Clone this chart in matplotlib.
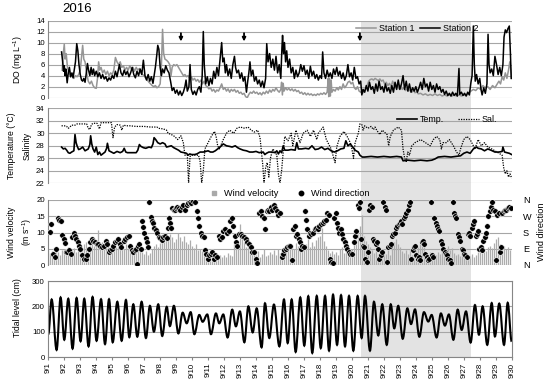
import numpy as np
import matplotlib
matplotlib.use('Agg')
import matplotlib.pyplot as plt
import matplotlib.transforms as mtransforms
from matplotlib.path import Path
from matplotlib.patches import PathPatch, Rectangle
from matplotlib.lines import Line2D

plt.rcParams['font.family'] = ['Liberation Sans', 'DejaVu Sans']
plt.rcParams['mathtext.fontset'] = 'custom'
plt.rcParams['mathtext.rm'] = 'Liberation Sans'
plt.rcParams['mathtext.it'] = 'Liberation Sans:italic'

# days counted from 9/1 00:00
date_labels = ['9/1', '9/2', '9/3', '9/4', '9/5', '9/6', '9/7', '9/8', '9/9', '9/10',
               '9/11', '9/12', '9/13', '9/14', '9/15', '9/16', '9/17', '9/18', '9/19', '9/20',
               '9/21', '9/22', '9/23', '9/24', '9/25', '9/26', '9/27', '9/28', '9/29', '9/30']
shade_start, shade_end = 19.57, 26.43
arrow_days = [8.30, 12.25, 19.50]

# DO, station 1 (grey)
st1_pts = [(0.87, 5.0), (0.92, 7.5), (1.0, 9.7), (1.05, 7.0), (1.12, 8.0), (1.2, 5.5), (1.3, 4.5), (1.4, 3.8),
           (1.5, 4.2), (1.6, 3.5), (1.7, 4.0), (1.8, 3.8), (1.9, 4.2), (2.0, 5.0), (2.08, 7.5), (2.15, 9.5),
           (2.22, 7.0), (2.3, 6.5), (2.4, 4.5), (2.5, 3.0), (2.6, 2.5), (2.7, 3.0), (2.8, 2.2), (2.9, 1.8),
           (3.0, 1.7), (3.08, 3.5), (3.15, 6.5), (3.22, 5.0), (3.3, 5.5), (3.4, 4.5), (3.5, 5.0), (3.6, 4.2),
           (3.7, 4.8), (3.8, 4.0), (3.9, 4.5), (4.0, 4.2), (4.1, 5.0), (4.2, 7.3), (4.3, 6.5), (4.4, 6.0),
           (4.5, 6.5), (4.6, 5.5), (4.7, 5.8), (4.8, 5.0), (4.9, 5.5), (5.0, 5.0), (5.1, 5.8), (5.2, 5.2),
           (5.3, 5.5), (5.4, 4.8), (5.5, 5.5), (5.6, 5.0), (5.7, 5.3), (5.8, 4.5), (5.9, 4.2), (6.0, 4.0),
           (6.1, 3.5), (6.2, 3.2), (6.3, 2.8), (6.4, 2.5), (6.5, 2.2), (6.6, 2.0), (6.7, 2.2), (6.8, 1.8),
           (6.9, 2.0), (7.0, 2.5), (7.08, 6.0), (7.15, 12.4), (7.22, 8.0), (7.3, 7.0), (7.4, 6.8), (7.5, 6.5),
           (7.6, 6.0), (7.68, 4.0), (7.75, 5.5), (7.85, 6.0), (7.95, 5.8), (8.05, 6.0), (8.15, 5.5), (8.25, 5.0),
           (8.35, 4.5), (8.45, 4.0), (8.55, 4.2), (8.65, 3.8), (8.75, 4.0), (8.85, 3.5), (8.95, 3.8), (9.05, 3.2),
           (9.15, 3.5), (9.25, 3.0), (9.35, 3.3), (9.45, 2.8), (9.55, 3.2), (9.65, 2.5), (9.75, 3.0), (9.85, 2.2),
           (9.95, 2.0), (10.05, 1.6), (10.15, 1.8), (10.25, 1.2), (10.35, 1.5), (10.45, 1.0), (10.55, 1.4),
           (10.65, 1.2), (10.75, 1.8), (10.85, 2.5), (10.95, 1.5), (11.05, 1.8), (11.15, 1.2), (11.25, 1.6),
           (11.35, 1.0), (11.45, 1.5), (11.55, 1.2), (11.65, 1.5), (11.75, 1.0), (11.85, 1.3), (11.95, 0.8),
           (12.05, 1.0), (12.15, 0.6), (12.25, 0.8), (12.35, 0.2), (12.45, 0.0), (12.55, 0.6), (12.65, 1.0),
           (12.75, 0.8), (12.85, 1.2), (12.95, 0.8), (13.05, 1.0), (13.15, 0.6), (13.25, 0.9), (13.35, 0.5),
           (13.45, 1.0), (13.55, 0.7), (13.65, 1.2), (13.75, 0.8), (13.85, 1.4), (13.95, 1.0), (14.05, 1.5),
           (14.15, 1.2), (14.25, 1.8), (14.35, 1.3), (14.45, 1.0), (14.55, 1.5), (14.6, 2.8), (14.65, 0.5),
           (14.7, 2.6), (14.75, 1.2), (14.85, 1.8), (14.95, 1.4), (15.05, 1.7), (15.15, 1.3), (15.25, 1.6),
           (15.35, 1.2), (15.45, 1.5), (15.55, 1.1), (15.65, 1.3), (15.75, 0.8), (15.85, 1.0), (15.95, 0.6),
           (16.05, 0.9), (16.15, 0.5), (16.25, 0.8), (16.35, 0.5), (16.45, 0.7), (16.55, 0.4), (16.65, 0.6),
           (16.75, 0.4), (16.85, 0.7), (16.95, 0.5), (17.05, 0.8), (17.15, 0.6), (17.25, 0.9), (17.35, 0.6),
           (17.45, 1.0), (17.52, 3.5), (17.55, 0.2), (17.6, 3.5), (17.65, 0.3), (17.7, 3.2), (17.75, 1.0),
           (17.85, 1.5), (17.95, 1.2), (18.05, 1.8), (18.15, 1.4), (18.25, 2.0), (18.35, 1.5), (18.45, 2.5),
           (18.55, 1.8), (18.65, 2.2), (18.75, 2.8), (18.85, 3.0), (18.95, 2.5), (19.05, 2.8), (19.15, 1.8),
           (19.25, 1.5), (19.35, 2.0), (19.45, 1.2), (19.55, 1.0), (19.65, 0.8), (19.75, 1.0), (19.85, 1.5),
           (19.95, 2.2), (20.05, 3.0), (20.15, 3.3), (20.25, 3.4), (20.35, 3.2), (20.45, 3.5), (20.55, 3.3),
           (20.65, 3.1), (20.75, 3.4), (20.85, 3.0), (20.95, 3.2), (21.05, 2.5), (21.15, 2.8), (21.25, 2.2),
           (21.35, 2.6), (21.45, 2.0), (21.55, 3.0), (21.65, 2.2), (21.75, 1.8), (21.85, 2.5), (21.95, 1.6),
           (22.05, 2.2), (22.15, 1.5), (22.25, 1.8), (22.35, 1.3), (22.45, 1.6), (22.55, 1.2), (22.65, 1.5),
           (22.75, 1.0), (22.85, 1.3), (22.95, 0.9), (23.05, 1.1), (23.15, 0.7), (23.3, 0.8), (23.45, 0.5),
           (23.6, 0.7), (23.75, 0.4), (23.9, 0.6), (24.05, 0.4), (24.2, 0.7), (24.35, 0.4), (24.5, 0.6),
           (24.65, 0.3), (24.8, 0.5), (24.95, 0.3), (25.1, 0.5), (25.25, 0.3), (25.4, 0.5), (25.55, 0.3),
           (25.7, 0.5), (25.85, 0.3), (26.0, 0.5), (26.15, 0.4), (26.3, 0.8), (26.45, 1.2), (26.6, 1.5),
           (26.75, 1.3), (26.9, 1.8), (27.05, 1.5), (27.2, 2.2), (27.35, 1.8), (27.5, 2.0), (27.65, 1.5),
           (27.8, 2.2), (27.95, 1.8), (28.1, 2.5), (28.2, 3.0), (28.3, 2.5), (28.4, 3.8), (28.5, 3.2),
           (28.6, 4.5), (28.7, 3.5), (28.8, 5.0), (28.88, 6.5), (28.95, 5.0), (29.0, 3.5)]

# DO, station 2 (black)
st2_pts = [(0.83, 8.3), (0.9, 6.5), (0.95, 4.8), (1.0, 5.8), (1.05, 4.0), (1.1, 5.2), (1.18, 2.7), (1.25, 4.5),
           (1.32, 5.5), (1.4, 3.8), (1.48, 4.5), (1.55, 3.6), (1.62, 5.0), (1.7, 6.5), (1.78, 9.8), (1.85, 8.5),
           (1.92, 6.0), (2.0, 4.2), (2.08, 3.2), (2.15, 3.0), (2.22, 3.5), (2.3, 2.8), (2.38, 4.5), (2.45, 6.2),
           (2.52, 5.0), (2.6, 4.0), (2.68, 5.5), (2.75, 4.2), (2.83, 5.2), (2.9, 4.0), (3.0, 4.8), (3.1, 3.8),
           (3.2, 4.5), (3.3, 3.5), (3.4, 4.2), (3.5, 3.4), (3.6, 3.8), (3.7, 3.0), (3.8, 3.6), (3.9, 3.2),
           (4.0, 4.0), (4.1, 3.5), (4.2, 4.8), (4.3, 3.8), (4.45, 6.0), (4.55, 4.5), (4.65, 4.0), (4.75, 5.0),
           (4.85, 4.2), (4.95, 4.8), (5.05, 3.8), (5.15, 4.5), (5.25, 5.5), (5.35, 4.2), (5.45, 3.6), (5.55, 4.8),
           (5.65, 4.0), (5.75, 5.2), (5.85, 4.2), (5.95, 6.8), (6.05, 4.0), (6.15, 3.2), (6.25, 4.2), (6.35, 3.0),
           (6.45, 3.8), (6.55, 2.6), (6.62, 4.0), (6.7, 5.5), (6.78, 7.5), (6.85, 9.5), (6.92, 8.8), (7.0, 5.5),
           (7.08, 4.0), (7.15, 5.2), (7.25, 4.5), (7.35, 5.8), (7.45, 5.0), (7.55, 4.5), (7.65, 3.0), (7.75, 1.3),
           (7.85, 1.8), (7.95, 0.8), (8.05, 1.4), (8.15, 0.5), (8.25, 1.2), (8.35, 0.4), (8.45, 1.0), (8.55, 2.0),
           (8.62, 3.2), (8.7, 1.2), (8.8, 2.0), (8.87, 6.0), (8.95, 1.5), (9.05, 0.6), (9.15, 1.2), (9.25, 0.5),
           (9.35, 1.5), (9.45, 2.0), (9.55, 1.0), (9.63, 4.0), (9.7, 12.0), (9.76, 6.0), (9.85, 2.5), (9.95, 3.8),
           (10.05, 2.2), (10.15, 3.5), (10.25, 2.5), (10.35, 4.8), (10.45, 3.5), (10.55, 5.5), (10.65, 4.0),
           (10.75, 7.0), (10.85, 10.0), (10.92, 6.5), (11.0, 7.2), (11.08, 4.5), (11.15, 6.0), (11.25, 4.0),
           (11.35, 5.2), (11.45, 3.5), (11.55, 6.0), (11.65, 7.5), (11.72, 5.5), (11.8, 4.5), (11.9, 5.0),
           (12.0, 3.5), (12.1, 4.5), (12.2, 3.0), (12.3, 3.8), (12.4, 1.0), (12.48, 3.0), (12.55, 4.5),
           (12.62, 6.5), (12.7, 4.0), (12.8, 5.0), (12.9, 3.0), (13.0, 3.8), (13.1, 2.5), (13.2, 3.2), (13.3, 2.0),
           (13.4, 3.0), (13.5, 1.8), (13.6, 3.5), (13.67, 9.8), (13.75, 6.5), (13.85, 8.0), (13.95, 5.5),
           (14.05, 7.0), (14.15, 5.0), (14.25, 7.5), (14.35, 4.5), (14.45, 6.0), (14.55, 3.5), (14.62, 9.0),
           (14.66, 11.3), (14.72, 8.0), (14.78, 10.0), (14.85, 6.5), (14.92, 8.5), (15.0, 5.5), (15.1, 7.0),
           (15.2, 4.5), (15.3, 5.5), (15.4, 3.5), (15.5, 5.0), (15.6, 3.8), (15.7, 4.5), (15.8, 6.0), (15.9, 4.8),
           (16.0, 5.8), (16.1, 4.2), (16.2, 5.0), (16.3, 3.5), (16.4, 5.7), (16.5, 4.0), (16.6, 4.8), (16.7, 3.5),
           (16.8, 4.2), (16.9, 3.2), (17.0, 4.0), (17.1, 3.5), (17.17, 8.3), (17.25, 4.5), (17.35, 3.5),
           (17.45, 5.0), (17.55, 3.8), (17.65, 4.5), (17.75, 3.5), (17.85, 5.2), (17.95, 4.2), (18.05, 5.5),
           (18.15, 4.0), (18.25, 4.8), (18.35, 3.5), (18.45, 4.5), (18.55, 3.2), (18.65, 4.0), (18.75, 6.0),
           (18.85, 3.8), (18.95, 4.5), (19.05, 3.2), (19.15, 5.5), (19.25, 3.5), (19.35, 3.8), (19.45, 2.5),
           (19.55, 3.0), (19.62, 0.5), (19.7, 1.5), (19.8, 1.0), (19.9, 2.2), (20.0, 1.2), (20.1, 2.8),
           (20.2, 1.5), (20.3, 2.0), (20.4, 0.8), (20.5, 2.5), (20.6, 1.2), (20.7, 3.0), (20.8, 1.5), (20.9, 2.0),
           (21.0, 1.0), (21.1, 2.5), (21.2, 1.2), (21.3, 1.8), (21.4, 0.8), (21.5, 2.2), (21.6, 1.0), (21.7, 2.8),
           (21.8, 1.5), (21.9, 3.2), (22.0, 1.5), (22.1, 2.5), (22.2, 4.0), (22.3, 1.5), (22.4, 3.0), (22.5, 1.2),
           (22.6, 2.5), (22.7, 1.0), (22.8, 1.8), (22.9, 1.2), (23.0, 2.0), (23.1, 1.0), (23.2, 1.8), (23.3, 2.8),
           (23.4, 1.5), (23.5, 3.5), (23.6, 2.0), (23.7, 2.5), (23.8, 1.2), (23.9, 2.8), (24.0, 1.5), (24.1, 2.2),
           (24.2, 1.0), (24.3, 2.5), (24.4, 1.5), (24.5, 2.0), (24.6, 1.0), (24.7, 1.5), (24.8, 0.6), (24.9, 1.2),
           (25.0, 0.4), (25.1, 0.8), (25.2, 0.3), (25.3, 1.0), (25.4, 0.4), (25.5, 0.8), (25.6, 0.3), (25.7, 5.3),
           (25.75, 0.6), (25.85, 1.0), (25.95, 0.4), (26.05, 0.8), (26.15, 0.3), (26.25, 1.0), (26.35, 0.5),
           (26.45, 2.8), (26.52, 4.0), (26.6, 13.0), (26.66, 6.0), (26.72, 3.0), (26.8, 4.2), (26.9, 2.5),
           (27.0, 3.5), (27.08, 1.5), (27.15, 0.5), (27.25, 1.8), (27.35, 0.8), (27.45, 2.5), (27.52, 11.5),
           (27.58, 6.0), (27.65, 4.5), (27.75, 5.2), (27.85, 4.0), (27.95, 7.5), (28.05, 6.0), (28.15, 4.2),
           (28.25, 5.5), (28.35, 4.0), (28.45, 6.0), (28.52, 11.0), (28.6, 12.3), (28.68, 11.8), (28.76, 12.5),
           (28.85, 13.0), (28.92, 8.0), (28.97, 3.5)]

# water temperature (solid)
temp_pts = [(0.83, 27.8), (0.94, 27.5), (1.05, 27.6), (1.15, 27.3), (1.25, 26.9), (1.35, 26.8), (1.46, 27.0),
            (1.6, 27.2), (1.67, 29.8), (1.74, 28.5), (1.8, 28.0), (1.9, 27.4), (2.0, 27.5), (2.15, 27.8),
            (2.3, 27.2), (2.5, 27.5), (2.6, 28.2), (2.65, 29.6), (2.72, 28.3), (2.8, 27.5), (2.9, 27.0),
            (3.0, 27.8), (3.1, 26.6), (3.2, 27.0), (3.3, 26.5), (3.45, 26.8), (3.55, 27.0), (3.65, 27.6),
            (3.7, 28.4), (3.8, 27.2), (3.95, 27.0), (4.1, 26.8), (4.3, 27.1), (4.5, 26.9), (4.65, 27.1),
            (4.75, 27.6), (4.85, 27.0), (4.95, 26.9), (5.2, 26.9), (5.5, 26.9), (5.6, 27.3), (5.7, 28.2),
            (5.8, 27.9), (5.95, 27.7), (6.1, 27.6), (6.3, 27.8), (6.45, 27.7), (6.55, 28.3), (6.62, 29.3),
            (6.72, 29.0), (6.85, 28.5), (7.0, 28.3), (7.15, 28.5), (7.3, 28.3), (7.4, 27.8), (7.55, 27.9),
            (7.7, 28.0), (7.85, 27.7), (8.0, 27.5), (8.15, 27.3), (8.3, 27.0), (8.5, 26.9), (8.65, 26.8),
            (8.75, 26.5), (8.85, 26.7), (8.97, 26.6), (9.15, 26.6), (9.3, 26.7), (9.5, 27.0), (9.7, 27.0),
            (9.85, 27.1), (10.0, 27.2), (10.15, 27.0), (10.3, 27.0), (10.45, 27.2), (10.6, 27.5),
            (10.75, 27.8), (10.95, 28.3), (11.15, 28.0), (11.35, 27.9), (11.5, 27.8), (11.7, 28.0),
            (11.85, 27.7), (12.0, 27.5), (12.2, 27.3), (12.4, 27.2), (12.6, 27.0), (12.8, 27.0), (13.0, 27.1),
            (13.2, 26.9), (13.45, 27.0), (13.55, 26.6), (13.65, 26.8), (13.8, 27.0), (14.0, 27.0),
            (14.2, 26.9), (14.3, 27.2), (14.4, 26.7), (14.5, 27.2), (14.6, 26.9), (14.7, 28.0), (14.8, 27.3),
            (15.0, 27.3), (15.2, 27.4), (15.45, 27.3), (15.55, 28.5), (15.65, 27.5), (15.85, 27.5),
            (16.1, 27.6), (16.3, 27.5), (16.5, 28.0), (16.7, 27.4), (16.9, 27.5), (17.1, 27.8), (17.3, 27.4),
            (17.5, 27.6), (17.7, 27.2), (17.9, 27.0), (18.1, 27.2), (18.3, 27.5), (18.5, 27.6), (18.62, 28.8),
            (18.75, 28.0), (18.9, 28.3), (19.05, 27.8), (19.2, 27.3), (19.4, 27.0), (19.5, 26.5),
            (19.65, 26.2), (19.8, 26.2), (20.2, 26.3), (20.6, 26.2), (21.0, 26.3), (21.4, 26.2), (21.8, 26.3),
            (22.1, 26.2), (22.2, 25.6), (22.5, 25.7), (22.9, 25.6), (23.3, 25.7), (23.7, 25.6), (24.0, 25.7),
            (24.2, 25.9), (24.4, 26.2), (24.8, 26.3), (25.2, 26.2), (25.5, 26.3), (25.8, 26.4), (26.0, 26.8),
            (26.2, 27.0), (26.4, 26.8), (26.6, 27.5), (26.8, 27.8), (26.9, 27.6), (27.1, 27.5), (27.3, 27.2),
            (27.5, 27.5), (27.7, 27.3), (27.95, 27.0), (28.2, 27.0), (28.4, 27.1), (28.45, 27.8),
            (28.55, 27.0), (28.7, 26.9), (28.85, 26.8), (29.0, 26.6)]

# salinity (dotted)
sal_pts = [(0.83, 31.2), (1.0, 31.2), (1.15, 31.1), (1.25, 30.8), (1.35, 31.0), (1.46, 31.3), (1.67, 31.3),
           (1.8, 31.5), (2.1, 31.5), (2.4, 31.5), (2.5, 30.8), (2.6, 30.6), (2.7, 31.4), (2.8, 31.6),
           (3.05, 31.6), (3.2, 30.7), (3.3, 31.7), (3.6, 31.7), (3.95, 31.7), (4.05, 29.3), (4.15, 31.0),
           (4.3, 31.4), (4.5, 31.3), (4.6, 30.5), (4.7, 31.3), (4.9, 31.2), (5.1, 31.2), (5.5, 31.1),
           (6.0, 31.1), (6.4, 31.0), (6.8, 31.0), (6.9, 30.8), (7.2, 30.7), (7.4, 30.5), (7.5, 30.0),
           (7.7, 29.8), (7.9, 29.5), (8.1, 29.0), (8.3, 29.6), (8.45, 28.5), (8.55, 26.5), (8.7, 26.5),
           (8.78, 22.0), (8.87, 26.3), (9.0, 26.5), (9.4, 26.5), (9.5, 25.5), (9.6, 22.0), (9.7, 24.0),
           (9.8, 27.5), (10.0, 28.5), (10.2, 29.5), (10.4, 30.3), (10.5, 29.5), (10.6, 28.0), (10.7, 27.5),
           (10.95, 29.0), (11.15, 30.0), (11.35, 30.5), (11.6, 30.0), (11.8, 30.8), (12.0, 31.0),
           (12.3, 30.8), (12.5, 31.0), (12.7, 30.5), (12.9, 30.2), (13.1, 30.5), (13.25, 29.3), (13.42, 25.0),
           (13.5, 22.0), (13.6, 24.5), (13.7, 25.3), (13.8, 23.0), (13.9, 26.0), (14.05, 27.5), (14.2, 27.0),
           (14.3, 26.5), (14.4, 23.5), (14.5, 22.0), (14.6, 24.0), (14.7, 27.0), (14.8, 29.5), (15.0, 28.8),
           (15.2, 30.0), (15.3, 28.0), (15.5, 30.5), (15.75, 28.5), (15.95, 30.0), (16.2, 30.5), (16.4, 29.5),
           (16.6, 30.5), (16.8, 29.0), (16.9, 30.0), (17.2, 31.0), (17.4, 29.0), (17.6, 28.0), (17.7, 27.5),
           (17.95, 25.3), (18.05, 27.8), (18.25, 29.5), (18.5, 30.3), (18.7, 29.5), (18.9, 28.5), (19.0, 27.5),
           (19.1, 26.0), (19.2, 28.5), (19.4, 30.0), (19.5, 31.5), (19.62, 31.4), (19.7, 30.5), (19.8, 31.2),
           (20.0, 30.8), (20.2, 31.1), (20.35, 30.6), (20.45, 31.0), (20.55, 30.5), (20.75, 29.8),
           (20.9, 30.5), (21.2, 29.8), (21.3, 28.0), (21.4, 29.5), (21.6, 30.5), (21.9, 31.0), (22.1, 30.5),
           (22.2, 27.5), (22.3, 26.0), (22.4, 25.5), (22.5, 27.0), (22.6, 26.5), (22.75, 28.0), (22.95, 28.5),
           (23.3, 29.0), (23.6, 28.5), (23.9, 28.0), (24.1, 29.0), (24.3, 29.5), (24.5, 29.0), (24.6, 27.5),
           (24.7, 28.5), (24.9, 28.5), (25.1, 29.0), (25.35, 28.0), (25.55, 27.0), (25.7, 26.5), (25.8, 27.5),
           (26.0, 29.0), (26.2, 29.5), (26.4, 29.0), (26.6, 28.0), (26.7, 27.5), (26.9, 29.0), (27.1, 28.0),
           (27.3, 28.5), (27.5, 27.8), (27.75, 27.5), (27.95, 27.2), (28.2, 26.8), (28.4, 26.5), (28.5, 24.5),
           (28.6, 23.5), (28.7, 24.0), (28.8, 23.0), (28.9, 23.5), (29.0, 22.8)]

# wind velocity, 3-hourly (m/s)
wind_speed = [4.5, 3.8, 4.2, 3.5, 4.8, 4.0, 3.2, 4.5,
              5.0, 4.2, 5.5, 3.8, 4.5, 5.2, 4.0, 4.8,
              6.0, 5.2, 6.5, 7.0, 5.5, 6.8, 7.2, 6.0,
              7.5, 10.8, 6.5, 7.0, 5.8, 6.5, 7.2, 5.5,
              6.0, 7.5, 5.5, 6.8, 7.8, 6.2, 5.0, 6.5,
              5.5, 4.8, 6.0, 4.2, 5.2, 4.5, 5.8, 4.0,
              3.5, 4.2, 3.0, 3.8, 5.0, 5.8, 6.5, 5.5,
              6.8, 7.5, 8.2, 9.0, 7.8, 9.5, 8.5, 7.2,
              8.0, 9.7, 8.5, 7.5, 8.8, 7.0, 6.5, 7.8,
              6.0, 5.2, 6.5, 4.5, 5.0, 4.2, 3.8, 4.5,
              3.5, 2.8, 3.2, 2.5, 3.8, 2.2, 3.0, 2.6,
              3.2, 2.5, 3.8, 3.0, 2.8, 6.5, 7.5, 6.0,
              12.5, 8.0, 7.0, 5.5, 6.0, 4.5, 5.2, 3.8,
              3.0, 4.2, 2.5, 3.5, 5.0, 2.8, 3.2, 4.0,
              3.5, 4.5, 3.0, 4.8, 3.8, 5.0, 3.2, 4.2,
              4.5, 5.5, 6.2, 5.0, 6.8, 5.8, 7.0, 6.0,
              5.2, 6.5, 8.0, 5.5, 7.2, 6.0, 7.8, 8.5,
              9.0, 11.3, 7.5, 6.0, 4.5, 3.8, 4.2, 3.5,
              4.0, 3.2, 4.8, 5.5, 3.8, 4.5, 5.8, 4.2,
              5.0, 6.5, 8.0, 9.5, 12.0, 15.5, 9.0, 7.5,
              6.5, 5.5, 4.5, 3.8, 4.2, 3.5, 4.8, 3.2,
              4.0, 3.5, 4.5, 3.2, 5.5, 7.0, 8.0, 6.5,
              5.5, 4.2, 3.8, 4.5, 3.5, 4.8, 3.2, 4.0,
              4.5, 5.5, 6.5, 7.0, 5.8, 3.8, 3.2, 4.0,
              3.5, 2.8, 3.2, 4.0, 3.5, 4.8, 5.5, 5.0,
              6.0, 4.5, 5.2, 3.8, 3.2, 3.5, 2.8, 3.0,
              2.5, 3.0, 2.2, 2.8, 3.5, 2.6, 3.2, 4.0,
              4.5, 3.8, 5.0, 4.2, 5.5, 6.0, 5.2, 6.8,
              8.0, 8.7, 6.5, 5.5, 6.0, 4.8, 5.5, 4.5]
wind_speed_day = np.arange(len(wind_speed)) * 0.125

# wind direction (degrees, N = 0/360)
wdir_pts = [(0.1, 185), (0.18, 225), (0.3, 63), (0.4, 45), (0.5, 90), (0.62, 260), (0.7, 252), (0.78, 243),
            (0.88, 166), (0.96, 144), (1.04, 121), (1.12, 74), (1.2, 72), (1.3, 81), (1.4, 63), (1.5, 153),
            (1.58, 180), (1.66, 162), (1.75, 144), (1.83, 126), (1.92, 108), (2.0, 90), (2.1, 54), (2.25, 36),
            (2.35, 32), (2.45, 54), (2.52, 90), (2.62, 126), (2.72, 144), (2.82, 135), (2.92, 126), (3.02, 117),
            (3.12, 117), (3.25, 108), (3.38, 99), (3.48, 108), (3.58, 135), (3.68, 117), (3.78, 72), (3.88, 81),
            (3.98, 90), (4.08, 108), (4.18, 126), (4.28, 135), (4.38, 144), (4.48, 117), (4.58, 99), (4.72, 135),
            (4.82, 144), (4.92, 153), (5.02, 162), (5.12, 108), (5.22, 81), (5.32, 72), (5.42, 81), (5.52, 5),
            (5.5, 90), (5.6, 108), (5.7, 117), (5.8, 90), (5.88, 243), (5.95, 212), (6.02, 175), (6.1, 148),
            (6.18, 130), (6.25, 101), (6.32, 347), (6.4, 268), (6.48, 243), (6.56, 230), (6.64, 203), (6.72, 194),
            (6.8, 175), (6.9, 157), (7.0, 148), (7.1, 139), (7.2, 157), (7.3, 162), (7.4, 148), (7.5, 203),
            (7.58, 261), (7.64, 234), (7.7, 207), (7.76, 315), (7.84, 306), (7.92, 306), (8.0, 315), (8.08, 324),
            (8.16, 315), (8.26, 306), (8.36, 324), (8.46, 333), (8.56, 306), (8.66, 333), (8.76, 342), (8.86, 351),
            (8.96, 346), (9.06, 356), (9.16, 351), (9.28, 297), (9.38, 261), (9.46, 216), (9.56, 180), (9.64, 162),
            (9.72, 153), (9.82, 81), (9.9, 63), (9.98, 36), (10.08, 54), (10.16, 63), (10.26, 72), (10.36, 36),
            (10.44, 54), (10.54, 45), (10.66, 162), (10.74, 144), (10.84, 153), (10.96, 189), (11.06, 198),
            (11.16, 180), (11.28, 189), (11.4, 243), (11.48, 261), (11.56, 216), (11.66, 162), (11.74, 126),
            (11.82, 108), (11.94, 171), (12.04, 171), (12.14, 162), (12.26, 153), (12.36, 144), (12.46, 126),
            (12.56, 117), (12.66, 99), (12.76, 72), (12.88, 72), (12.98, 36), (13.08, 9), (13.2, 288), (13.3, 297),
            (13.4, 270), (13.5, 261), (13.58, 198), (13.66, 297), (13.74, 306), (13.82, 297), (13.92, 324),
            (14.0, 306), (14.1, 333), (14.2, 315), (14.3, 297), (14.4, 279), (14.5, 288), (14.6, 47), (14.68, 63),
            (14.76, 81), (14.86, 90), (14.96, 99), (15.06, 108), (15.14, 108), (15.24, 27), (15.34, 198),
            (15.42, 216), (15.5, 162), (15.58, 171), (15.66, 144), (15.74, 126), (15.82, 90), (15.9, 108),
            (15.98, 99), (16.06, 297), (16.14, 252), (16.22, 198), (16.3, 162), (16.38, 180), (16.46, 171),
            (16.56, 180), (16.66, 198), (16.76, 207), (16.86, 198), (16.96, 216), (17.06, 225), (17.16, 234),
            (17.26, 243), (17.36, 252), (17.46, 288), (17.56, 279), (17.64, 36), (17.72, 18), (17.8, 9),
            (17.9, 261), (17.98, 288), (18.06, 234), (18.14, 207), (18.22, 180), (18.3, 198), (18.38, 171),
            (18.46, 144), (18.54, 126), (18.62, 108), (18.7, 90), (18.8, 72), (18.9, 63), (19.0, 63), (19.12, 126),
            (19.2, 162), (19.28, 189), (19.36, 333), (19.44, 315), (19.52, 351), (19.6, 144), (19.68, 108),
            (19.76, 99), (19.84, 36), (19.92, 18), (20.0, 72), (20.08, 306), (20.16, 333), (20.24, 324),
            (20.32, 144), (20.4, 135), (20.48, 117), (20.56, 126), (20.64, 90), (20.72, 36), (20.8, 54), (20.88, 72),
            (20.96, 351), (21.04, 324), (21.12, 306), (21.2, 18), (21.28, 99), (21.36, 108), (21.44, 117),
            (21.52, 162), (21.6, 171), (21.68, 180), (21.76, 207), (21.84, 216), (21.92, 225), (22.0, 234),
            (22.08, 243), (22.16, 225), (22.24, 261), (22.32, 270), (22.4, 288), (22.48, 306), (22.56, 333),
            (22.64, 351), (22.72, 36), (22.8, 81), (22.88, 99), (22.96, 108), (23.04, 54), (23.12, 36), (23.2, 45),
            (23.28, 27), (23.36, 126), (23.44, 135), (23.52, 117), (23.6, 63), (23.68, 45), (23.76, 27), (23.84, 36),
            (23.92, 351), (24.0, 54), (24.08, 45), (24.16, 261), (24.24, 234), (24.32, 216), (24.4, 198),
            (24.48, 189), (24.56, 135), (24.64, 117), (24.72, 90), (24.8, 72), (24.88, 63), (24.96, 54), (25.04, 36),
            (25.12, 27), (25.2, 9), (25.3, 351), (25.38, 288), (25.46, 270), (25.54, 261), (25.62, 171),
            (25.7, 153), (25.78, 135), (25.86, 90), (25.94, 81), (26.02, 63), (26.1, 54), (26.18, 45), (26.26, 171),
            (26.34, 180), (26.42, 162), (26.5, 207), (26.58, 225), (26.66, 243), (26.74, 162), (26.82, 171),
            (26.9, 189), (26.98, 90), (27.06, 99), (27.14, 81), (27.22, 135), (27.3, 153), (27.38, 180),
            (27.46, 216), (27.54, 270), (27.62, 297), (27.7, 324), (27.78, 351), (27.86, 306), (27.94, 297),
            (28.02, 27), (28.1, 279), (28.18, 288), (28.26, 72), (28.34, 99), (28.42, 288), (28.5, 297),
            (28.58, 306), (28.66, 306), (28.74, 315), (28.84, 324), (28.94, 315)]

# tidal level: successive high / low waters (day, cm)
tide_pts = [(0.0, 90), (0.21, 227), (0.52, 28), (0.77, 235), (1.00, 68), (1.25, 230), (1.52, 33), (1.77, 233),
            (2.02, 62), (2.25, 230), (2.52, 42), (2.77, 237), (3.02, 64), (3.30, 228), (3.55, 51), (3.80, 228),
            (4.03, 58), (4.32, 218), (4.59, 64), (4.86, 225), (5.07, 78), (5.32, 208), (5.57, 80), (5.84, 218),
            (6.11, 75), (6.36, 202), (6.61, 100), (6.88, 208), (7.13, 83), (7.41, 198), (7.61, 122), (7.86, 202),
            (8.14, 93), (8.41, 175), (8.66, 133), (8.91, 177), (9.14, 90), (9.45, 166), (9.66, 139), (9.95, 168),
            (10.18, 90), (10.49, 172), (10.70, 133), (10.95, 168), (11.22, 77), (11.51, 187), (11.74, 121),
            (11.99, 180), (12.27, 58), (12.52, 200), (12.79, 97), (13.04, 192), (13.35, 38), (13.56, 212),
            (13.83, 75), (14.12, 207), (14.46, 42), (14.75, 227), (14.98, 55), (15.23, 227), (15.48, 20),
            (15.77, 235), (16.02, 45), (16.27, 240), (16.52, 16), (16.80, 241), (17.05, 35), (17.32, 241),
            (17.57, 25), (17.82, 246), (18.07, 48), (18.32, 244), (18.57, 42), (18.82, 241), (19.09, 25),
            (19.36, 241), (19.61, 75), (19.82, 241), (20.13, 25), (20.38, 218), (20.65, 85), (20.90, 208),
            (21.18, 48), (21.43, 208), (21.65, 113), (21.90, 202), (22.18, 72), (22.47, 192), (22.70, 130),
            (22.95, 188), (23.22, 80), (23.51, 177), (23.78, 140), (23.99, 166), (24.30, 77), (24.57, 172),
            (24.82, 124), (25.07, 168), (25.35, 68), (25.62, 187), (25.87, 107), (26.14, 180), (26.43, 57),
            (26.70, 205), (26.95, 88), (27.18, 200), (27.47, 48), (27.75, 213), (27.95, 81), (28.22, 211),
            (28.52, 48), (28.75, 214), (29.00, 61)]

st1_day, st1_do = zip(*st1_pts)
st2_day, st2_do = zip(*st2_pts)
temp_day, temp_val = zip(*temp_pts)
sal_day, sal_val = zip(*sal_pts)
wdir_day, wdir_val = zip(*wdir_pts)

grid_c = '#a6a6a6'
axis_c = '#868686'
tick_fs = 5.6
lab_fs = 6.2

W, H = 550, 384
fig = plt.figure(figsize=(W / 100, H / 100), dpi=100)
left, right = 48.3 / W, 511.7 / W

def panel(top_px, bot_px):
    return fig.add_axes([left, 1 - bot_px / H, right - left, (bot_px - top_px) / H])

ax1 = panel(20.5, 97.7)
ax2 = panel(108.3, 183.3)
ax3 = panel(200.0, 265.0)
ax4 = panel(281.0, 357.0)

for ax in (ax1, ax2, ax3, ax4):
    ax.set_facecolor('none')
    ax.set_xlim(0, 29)
    ax.set_axisbelow(True)
    ax.yaxis.grid(True, color=grid_c, linewidth=0.8)
    ax.tick_params(axis='y', length=0, pad=2.5, labelsize=tick_fs)
    for s in ('top', 'right', 'bottom'):
        ax.spines[s].set_visible(False)
    ax.spines['left'].set_color(axis_c)
    ax.spines['left'].set_linewidth(0.8)
    if ax is not ax4:
        ax.set_xticks([])

# shaded period behind all panels
trans = mtransforms.blended_transform_factory(ax4.transData, fig.transFigure)
fig.add_artist(Rectangle((shade_start, 1 - 357.0 / H), shade_end - shade_start, (357.0 - 20.5) / H,
                         transform=trans, facecolor='#e3e3e3', edgecolor='none', zorder=-5))

# --- DO
ax1.plot(st1_day, st1_do, color='#959595', linewidth=1.1, label='Station 1')
ax1.plot(st2_day, st2_do, color='black', linewidth=1.1, label='Station 2')
ax1.set_ylim(0, 14)
ax1.set_yticks(range(0, 15, 2))
for d in arrow_days:
    ax1.annotate('', xy=(d, 10.2), xytext=(d, 11.7),
                 arrowprops=dict(arrowstyle='-|>', color='black', lw=1.3, mutation_scale=5,
                                 shrinkA=0, shrinkB=0))
ax1.legend(loc='upper right', bbox_to_anchor=(0.945, 1.06), ncol=2, frameon=False,
           fontsize=6.4, handlelength=2.3, handletextpad=0.3, columnspacing=0.6)

# --- temperature / salinity
ax2.plot(temp_day, temp_val, color='black', linewidth=1.2, label='Temp.')
ax2.plot(sal_day, sal_val, color='black', linewidth=0.9, linestyle=(0, (1, 1)), label='Sal.')
ax2.set_ylim(22, 34)
ax2.set_yticks(range(22, 35, 2))
ax2.legend(loc='upper right', bbox_to_anchor=(0.985, 1.02), ncol=2, frameon=False,
           fontsize=6.4, handlelength=2.3, handletextpad=0.3, columnspacing=1.6)

# --- wind
ax3.vlines(wind_speed_day, 0, wind_speed, color='#adadad', linewidth=0.9)
ax3.set_ylim(0, 20)
ax3.set_yticks(range(0, 21, 5))
ax3r = ax3.twinx()
ax3r.plot(wdir_day, wdir_val, 'o', color='black', markersize=4.0, markeredgecolor='white',
          markeredgewidth=0.4)
ax3r.set_ylim(0, 360)
ax3r.set_yticks([0, 90, 180, 270, 360])
ax3r.set_yticklabels(['N', 'E', 'S', 'W', 'N'])
ax3r.tick_params(axis='y', length=0, pad=8, labelsize=6.6)
for s in ax3r.spines.values():
    s.set_visible(False)
h_speed = Line2D([], [], marker='s', linestyle='none', color='#a9a9a9', markersize=3.5)
h_dir = Line2D([], [], marker='o', linestyle='none', color='black', markersize=3.2)
ax3.legend([h_speed, h_dir], ['Wind velocity', 'Wind direction'], loc='lower left',
           bbox_to_anchor=(0.33, 0.97), ncol=2, frameon=False, fontsize=6.6,
           handletextpad=0.1, columnspacing=1.4, borderaxespad=0)

# --- tide, smooth curve through the turning points
verts = [tide_pts[0]]
codes = [Path.MOVETO]
for (t0, v0), (t1, v1) in zip(tide_pts[:-1], tide_pts[1:]):
    dt = t1 - t0
    verts += [(t0 + 0.36 * dt, v0), (t1 - 0.36 * dt, v1), (t1, v1)]
    codes += [Path.CURVE4] * 3
ax4.add_patch(PathPatch(Path(verts, codes), facecolor='none', edgecolor='black', linewidth=1.5))
ax4.set_ylim(0, 300)
ax4.set_yticks([0, 100, 200, 300])
for s in ('top', 'right', 'bottom'):
    ax4.spines[s].set_visible(True)
    ax4.spines[s].set_color(axis_c)
    ax4.spines[s].set_linewidth(0.8)
ax4.set_xticks(np.arange(len(date_labels)))
ax4.set_xticklabels(date_labels, rotation=90)
ax4.tick_params(axis='x', length=2.5, color=axis_c, pad=1.5, labelsize=tick_fs)

# --- labels
def ylab(x_px, y_px, text, fs=lab_fs):
    fig.text(x_px / W, 1 - y_px / H, text, rotation=90, ha='center', va='center', fontsize=fs)

fig.text(62 / W, 1 - 9 / H, '2016', ha='left', va='center', fontsize=9.5)
ylab(18, 59, r'DO (mg L$^{-1}$)')
ylab(12, 146, 'Temperature (°C)')
ylab(27, 146, 'Salinity')
ylab(12, 232, 'Wind velocity')
ylab(27, 232, r'(m s$^{-1}$)')
ylab(18, 308, 'Tidal level (cm)')
ylab(541, 232, 'Wind direction', fs=6.6)

fig.savefig('out.png', dpi=100)
